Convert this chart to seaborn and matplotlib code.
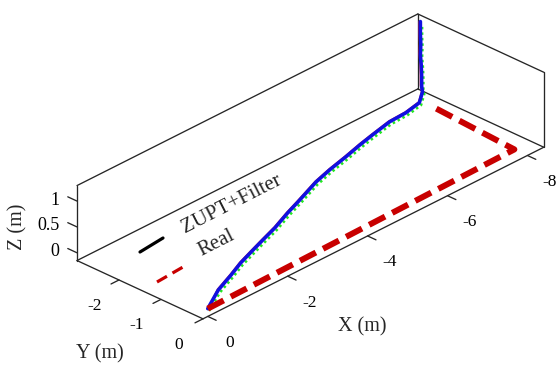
import matplotlib
matplotlib.use("Agg")
import matplotlib.pyplot as plt
import seaborn as sns
from matplotlib.lines import Line2D
from mpl_toolkits.mplot3d import proj3d

# ---------------- data ----------------
# ZUPT+Filter estimate (blue)
est_x = [0.00, -0.61, -1.15, -1.58, -1.99, -2.44, -2.90, -3.44, -3.84, -4.58, -5.06, -5.59, -6.07,
         -6.48, -7.02, -7.45, -7.87, -8.19, -8.19, -8.20, -8.20, -8.19, -8.20, -8.20, -8.19, -8.19]
est_y = [0.00, -0.33, -0.54, -0.72, -0.86, -1.01, -1.16, -1.37, -1.51, -1.78, -1.91, -2.03, -2.15,
         -2.24, -2.35, -2.37, -2.45, -2.68, -2.70, -2.71, -2.72, -2.73, -2.73, -2.74, -2.73, -2.73]
est_z = [0.00, 0.00, 0.00, 0.00, 0.00, 0.00, 0.00, 0.00, 0.00, 0.00, 0.00, 0.00, 0.00,
         0.00, 0.00, 0.00, 0.00, 0.00, 0.10, 0.30, 0.50, 0.70, 0.90, 1.10, 1.25, 1.34]
# second estimate (thin red, mostly hidden on the upper-left side)
raw_x = [0.00, -0.62, -1.16, -1.59, -2.00, -2.45, -2.91, -3.45, -3.85, -4.59, -5.07, -5.60, -6.08,
         -6.49, -7.03, -7.46, -7.88, -8.20, -8.20, -8.21, -8.21, -8.20, -8.21, -8.21, -8.20, -8.20]
raw_y = [0.00, -0.36, -0.57, -0.75, -0.89, -1.04, -1.19, -1.40, -1.54, -1.81, -1.94, -2.06, -2.18,
         -2.27, -2.38, -2.40, -2.48, -2.71, -2.74, -2.75, -2.76, -2.77, -2.77, -2.78, -2.77, -2.77]
raw_z = [0.00, 0.00, 0.00, 0.00, 0.00, 0.00, 0.00, 0.00, 0.00, 0.00, 0.00, 0.00, 0.00,
         0.00, 0.00, 0.00, 0.00, 0.00, 0.10, 0.30, 0.50, 0.70, 0.90, 1.10, 1.25, 1.32]
# third estimate (green dots, lower-right side)
grn_x = [0.04, -0.57, -1.11, -1.54, -1.95, -2.40, -2.86, -3.40, -3.80, -4.54, -5.02, -5.55, -6.03,
         -6.44, -6.98, -7.41, -7.83, -8.15, -8.15, -8.16, -8.16, -8.15, -8.16, -8.16, -8.15, -8.15]
grn_y = [0.07, -0.25, -0.46, -0.64, -0.78, -0.93, -1.08, -1.29, -1.43, -1.70, -1.83, -1.95, -2.07,
         -2.16, -2.27, -2.29, -2.37, -2.60, -2.62, -2.63, -2.64, -2.65, -2.65, -2.66, -2.65, -2.65]
grn_z = [0.00, 0.00, 0.00, 0.00, 0.00, 0.00, 0.00, 0.00, 0.00, 0.00, 0.00, 0.00, 0.00,
         0.00, 0.00, 0.00, 0.00, 0.00, 0.10, 0.30, 0.50, 0.70, 0.90, 1.10, 1.20, 1.30]
# real path (red dashed)
real_x = [0.00, -7.80, -7.93]
real_y = [0.00, -0.12, -2.24]
real_z = [0.00, 0.00, 0.00]

x_ticks = [0, -2, -4, -6, -8]
y_ticks = [0, -1, -2]
z_ticks = [0, 0.5, 1]
x_tick_labels = ["0", "-2", "-4", "-6", "-8"]
y_tick_labels = ["0", "-1", "-2"]
z_tick_labels = ["0", "0.5", "1"]
legend_labels = ["ZUPT+Filter", "Real"]

# ---------------- style ----------------
sns.set_theme(style="white")
plt.rcParams["font.family"] = ["Liberation Serif", "DejaVu Serif"]

XLIM = (-8.41, 0.12)
YLIM = (-3.0, 0.0)
ZLIM = (-0.15, 1.30)

W_PX, H_PX = 558, 365
fig = plt.figure(figsize=(W_PX / 100, H_PX / 100), dpi=100)
fig.patch.set_facecolor("white")

side = 330.0                 # square axes side in px
cx, cy = 310.4, 198.6        # where the box centre lands (px from left / bottom)
frac = 0.095 / 0.185
ax = fig.add_axes([(cx - frac * side) / W_PX, (cy - frac * side) / H_PX,
                   side / W_PX, side / H_PX],
                  projection="3d", proj_type="ortho", computed_zorder=False)
ax.set_axis_off()
ax.set_xticks([])
ax.set_yticks([])
ax.set_zticks([])
for t in (ax.title, ax._left_title, ax._right_title):
    t.set_visible(False)
for a in (ax.xaxis, ax.yaxis, ax.zaxis):
    a.label.set_visible(False)
    a.offsetText.set_visible(False)
ax.view_init(elev=28.86, azim=43.79)
ax.set_xlim(*XLIM)
ax.set_ylim(*YLIM)
ax.set_zlim(*ZLIM)
ax.set_box_aspect((492.5, 174.5, 85.6), zoom=514.0 / side)

# box outline (floor + two back walls)
x0, x1 = XLIM
y0, y1 = YLIM
z0, z1 = ZLIM
edges = [
    ((x1, x0), (y1, y1), (z0, z0)),
    ((x1, x1), (y1, y0), (z0, z0)),
    ((x1, x1), (y0, y0), (z0, z1)),
    ((x1, x0), (y0, y0), (z0, z0)),
    ((x1, x0), (y0, y0), (z1, z1)),
    ((x0, x0), (y0, y0), (z0, z1)),
    ((x0, x0), (y0, y1), (z0, z0)),
    ((x0, x0), (y0, y1), (z1, z1)),
    ((x0, x0), (y1, y1), (z0, z1)),
]
box_kw = dict(color="#262626", lw=0.95, zorder=1, clip_on=False)
for ex, ey, ez in edges:
    ax.plot(ex, ey, ez, **box_kw)

# ticks
tick_kw = dict(color="#262626", lw=0.95, zorder=1, clip_on=False)
for xv in x_ticks:
    ax.plot([xv, xv], [y1, y1 + 0.2], [z0, z0], **tick_kw)
for yv in y_ticks:
    ax.plot([x1, x1 + 0.2], [yv, yv], [z0, z0], **tick_kw)
for zv in z_ticks:
    ax.plot([x1, x1], [y0, y0 - 0.22], [zv, zv], **tick_kw)

# tick labels: anchored at the projected tick position, offset in pixels
M = ax.get_proj()


def tick_label(xv, yv, zv, s, dx, dy, ha, size):
    px, py, _ = proj3d.proj_transform(xv, yv, zv, M)
    ax.annotate(s, xy=(px, py), xycoords="data", xytext=(dx, dy),
                textcoords="offset pixels", ha=ha, va="center", fontsize=size,
                color="black", annotation_clip=False)


for xv, s in zip(x_ticks, x_tick_labels):
    tick_label(xv, y1, z0, s, 22, -26.5, "center", 12.5)
for yv, s in zip(y_ticks, y_tick_labels):
    tick_label(x1, yv, z0, s, -24.5, -26, "center", 12.5)
for zv, s in zip(z_ticks, z_tick_labels):
    tick_label(x1, y0, zv, s, -17.5, 1.0, "right", 13)

# trajectories
ax.plot(raw_x, raw_y, raw_z, color="#ff1a1a", lw=0.9, zorder=3, clip_on=False)
ax.plot(grn_x, grn_y, grn_z, color="#22e622", lw=1.8, ls=(0, (1, 1.2)), zorder=3, clip_on=False)
ax.plot(est_x, est_y, est_z, color="#1010e0", lw=2.6, zorder=4, clip_on=False)
ax.plot(real_x, real_y, real_z, color="#c80000", lw=4.3, ls=(0, (3.0, 1.35)),
        zorder=5, clip_on=False)

# axis labels
def fx(px):
    return px / W_PX

def fy(py):
    return 1 - py / H_PX

fig.text(fx(17.5), fy(227), "Z (m)", rotation=90, fontsize=14.5, ha="center", va="center")
fig.text(fx(100), fy(354), "Y (m)", fontsize=14.5, ha="center", va="center")
fig.text(fx(362), fy(327), "X (m)", fontsize=14.5, ha="center", va="center")

# rotated legend
fig.add_artist(Line2D([fx(140), fx(163)], [fy(252), fy(238)], transform=fig.transFigure,
                      color="black", lw=2.3))
fig.add_artist(Line2D([fx(157), fx(183)], [fy(282), fy(267)], transform=fig.transFigure,
                      color="#c80000", lw=2.3, ls=(0, (3.6, 2.0))))
fig.text(fx(232), fy(204), legend_labels[0], fontsize=15, rotation=27,
         rotation_mode="anchor", ha="center", va="center")
fig.text(fx(216), fy(243), legend_labels[1], fontsize=15, rotation=27,
         rotation_mode="anchor", ha="center", va="center")

fig.savefig("out.png", dpi=100, facecolor="white")
